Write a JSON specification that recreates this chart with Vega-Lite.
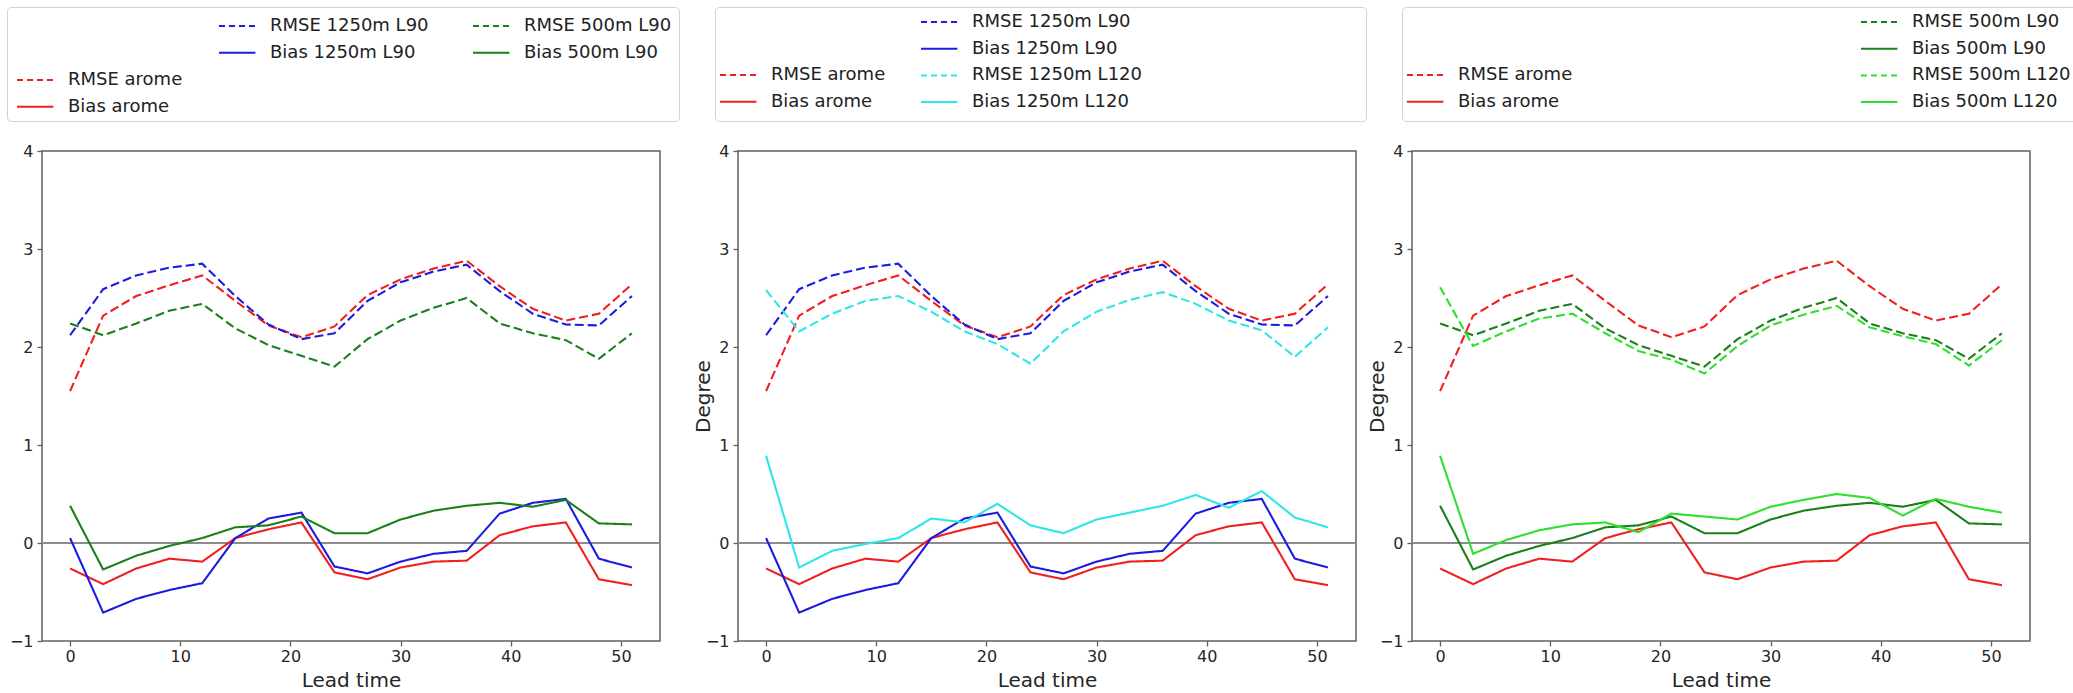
{
  "$schema": "https://vega.github.io/schema/vega-lite/v6.json",
  "background": "white",
  "padding": {"left": 6, "top": 6, "right": 0, "bottom": 0},
  "datasets": {
    "err": [
      {"lead":0,"series":"RMSE  arome","value":1.55},{"lead":3,"series":"RMSE  arome","value":2.32},{"lead":6,"series":"RMSE  arome","value":2.52},{"lead":9,"series":"RMSE  arome","value":2.63},{"lead":12,"series":"RMSE  arome","value":2.73},{"lead":15,"series":"RMSE  arome","value":2.47},{"lead":18,"series":"RMSE  arome","value":2.22},{"lead":21,"series":"RMSE  arome","value":2.10},{"lead":24,"series":"RMSE  arome","value":2.21},{"lead":27,"series":"RMSE  arome","value":2.53},{"lead":30,"series":"RMSE  arome","value":2.69},{"lead":33,"series":"RMSE  arome","value":2.80},{"lead":36,"series":"RMSE  arome","value":2.88},{"lead":39,"series":"RMSE  arome","value":2.62},{"lead":42,"series":"RMSE  arome","value":2.39},{"lead":45,"series":"RMSE  arome","value":2.27},{"lead":48,"series":"RMSE  arome","value":2.34},{"lead":51,"series":"RMSE  arome","value":2.64},
      {"lead":0,"series":"Bias  arome","value":-0.26},{"lead":3,"series":"Bias  arome","value":-0.42},{"lead":6,"series":"Bias  arome","value":-0.26},{"lead":9,"series":"Bias  arome","value":-0.16},{"lead":12,"series":"Bias  arome","value":-0.19},{"lead":15,"series":"Bias  arome","value":0.05},{"lead":18,"series":"Bias  arome","value":0.14},{"lead":21,"series":"Bias  arome","value":0.21},{"lead":24,"series":"Bias  arome","value":-0.30},{"lead":27,"series":"Bias  arome","value":-0.37},{"lead":30,"series":"Bias  arome","value":-0.25},{"lead":33,"series":"Bias  arome","value":-0.19},{"lead":36,"series":"Bias  arome","value":-0.18},{"lead":39,"series":"Bias  arome","value":0.08},{"lead":42,"series":"Bias  arome","value":0.17},{"lead":45,"series":"Bias  arome","value":0.21},{"lead":48,"series":"Bias  arome","value":-0.37},{"lead":51,"series":"Bias  arome","value":-0.43},
      {"lead":0,"series":"RMSE  1250m L90","value":2.12},{"lead":3,"series":"RMSE  1250m L90","value":2.59},{"lead":6,"series":"RMSE  1250m L90","value":2.73},{"lead":9,"series":"RMSE  1250m L90","value":2.81},{"lead":12,"series":"RMSE  1250m L90","value":2.85},{"lead":15,"series":"RMSE  1250m L90","value":2.52},{"lead":18,"series":"RMSE  1250m L90","value":2.23},{"lead":21,"series":"RMSE  1250m L90","value":2.08},{"lead":24,"series":"RMSE  1250m L90","value":2.14},{"lead":27,"series":"RMSE  1250m L90","value":2.47},{"lead":30,"series":"RMSE  1250m L90","value":2.66},{"lead":33,"series":"RMSE  1250m L90","value":2.77},{"lead":36,"series":"RMSE  1250m L90","value":2.84},{"lead":39,"series":"RMSE  1250m L90","value":2.57},{"lead":42,"series":"RMSE  1250m L90","value":2.34},{"lead":45,"series":"RMSE  1250m L90","value":2.23},{"lead":48,"series":"RMSE  1250m L90","value":2.22},{"lead":51,"series":"RMSE  1250m L90","value":2.52},
      {"lead":0,"series":"Bias  1250m L90","value":0.05},{"lead":3,"series":"Bias  1250m L90","value":-0.71},{"lead":6,"series":"Bias  1250m L90","value":-0.57},{"lead":9,"series":"Bias  1250m L90","value":-0.48},{"lead":12,"series":"Bias  1250m L90","value":-0.41},{"lead":15,"series":"Bias  1250m L90","value":0.05},{"lead":18,"series":"Bias  1250m L90","value":0.25},{"lead":21,"series":"Bias  1250m L90","value":0.31},{"lead":24,"series":"Bias  1250m L90","value":-0.24},{"lead":27,"series":"Bias  1250m L90","value":-0.31},{"lead":30,"series":"Bias  1250m L90","value":-0.19},{"lead":33,"series":"Bias  1250m L90","value":-0.11},{"lead":36,"series":"Bias  1250m L90","value":-0.08},{"lead":39,"series":"Bias  1250m L90","value":0.30},{"lead":42,"series":"Bias  1250m L90","value":0.41},{"lead":45,"series":"Bias  1250m L90","value":0.45},{"lead":48,"series":"Bias  1250m L90","value":-0.16},{"lead":51,"series":"Bias  1250m L90","value":-0.25},
      {"lead":0,"series":"RMSE  500m L90","value":2.24},{"lead":3,"series":"RMSE  500m L90","value":2.12},{"lead":6,"series":"RMSE  500m L90","value":2.24},{"lead":9,"series":"RMSE  500m L90","value":2.37},{"lead":12,"series":"RMSE  500m L90","value":2.44},{"lead":15,"series":"RMSE  500m L90","value":2.19},{"lead":18,"series":"RMSE  500m L90","value":2.02},{"lead":21,"series":"RMSE  500m L90","value":1.91},{"lead":24,"series":"RMSE  500m L90","value":1.80},{"lead":27,"series":"RMSE  500m L90","value":2.08},{"lead":30,"series":"RMSE  500m L90","value":2.27},{"lead":33,"series":"RMSE  500m L90","value":2.40},{"lead":36,"series":"RMSE  500m L90","value":2.50},{"lead":39,"series":"RMSE  500m L90","value":2.24},{"lead":42,"series":"RMSE  500m L90","value":2.14},{"lead":45,"series":"RMSE  500m L90","value":2.07},{"lead":48,"series":"RMSE  500m L90","value":1.88},{"lead":51,"series":"RMSE  500m L90","value":2.14},
      {"lead":0,"series":"Bias  500m L90","value":0.38},{"lead":3,"series":"Bias  500m L90","value":-0.27},{"lead":6,"series":"Bias  500m L90","value":-0.13},{"lead":9,"series":"Bias  500m L90","value":-0.03},{"lead":12,"series":"Bias  500m L90","value":0.05},{"lead":15,"series":"Bias  500m L90","value":0.16},{"lead":18,"series":"Bias  500m L90","value":0.18},{"lead":21,"series":"Bias  500m L90","value":0.27},{"lead":24,"series":"Bias  500m L90","value":0.10},{"lead":27,"series":"Bias  500m L90","value":0.10},{"lead":30,"series":"Bias  500m L90","value":0.24},{"lead":33,"series":"Bias  500m L90","value":0.33},{"lead":36,"series":"Bias  500m L90","value":0.38},{"lead":39,"series":"Bias  500m L90","value":0.41},{"lead":42,"series":"Bias  500m L90","value":0.37},{"lead":45,"series":"Bias  500m L90","value":0.44},{"lead":48,"series":"Bias  500m L90","value":0.20},{"lead":51,"series":"Bias  500m L90","value":0.19},
      {"lead":0,"series":"RMSE  1250m L120","value":2.58},{"lead":3,"series":"RMSE  1250m L120","value":2.16},{"lead":6,"series":"RMSE  1250m L120","value":2.34},{"lead":9,"series":"RMSE  1250m L120","value":2.47},{"lead":12,"series":"RMSE  1250m L120","value":2.52},{"lead":15,"series":"RMSE  1250m L120","value":2.36},{"lead":18,"series":"RMSE  1250m L120","value":2.16},{"lead":21,"series":"RMSE  1250m L120","value":2.03},{"lead":24,"series":"RMSE  1250m L120","value":1.83},{"lead":27,"series":"RMSE  1250m L120","value":2.16},{"lead":30,"series":"RMSE  1250m L120","value":2.36},{"lead":33,"series":"RMSE  1250m L120","value":2.48},{"lead":36,"series":"RMSE  1250m L120","value":2.56},{"lead":39,"series":"RMSE  1250m L120","value":2.44},{"lead":42,"series":"RMSE  1250m L120","value":2.27},{"lead":45,"series":"RMSE  1250m L120","value":2.17},{"lead":48,"series":"RMSE  1250m L120","value":1.90},{"lead":51,"series":"RMSE  1250m L120","value":2.20},
      {"lead":0,"series":"Bias  1250m L120","value":0.89},{"lead":3,"series":"Bias  1250m L120","value":-0.25},{"lead":6,"series":"Bias  1250m L120","value":-0.08},{"lead":9,"series":"Bias  1250m L120","value":-0.01},{"lead":12,"series":"Bias  1250m L120","value":0.05},{"lead":15,"series":"Bias  1250m L120","value":0.25},{"lead":18,"series":"Bias  1250m L120","value":0.21},{"lead":21,"series":"Bias  1250m L120","value":0.40},{"lead":24,"series":"Bias  1250m L120","value":0.18},{"lead":27,"series":"Bias  1250m L120","value":0.10},{"lead":30,"series":"Bias  1250m L120","value":0.24},{"lead":33,"series":"Bias  1250m L120","value":0.31},{"lead":36,"series":"Bias  1250m L120","value":0.38},{"lead":39,"series":"Bias  1250m L120","value":0.49},{"lead":42,"series":"Bias  1250m L120","value":0.36},{"lead":45,"series":"Bias  1250m L120","value":0.53},{"lead":48,"series":"Bias  1250m L120","value":0.26},{"lead":51,"series":"Bias  1250m L120","value":0.16},
      {"lead":0,"series":"RMSE  500m L120","value":2.61},{"lead":3,"series":"RMSE  500m L120","value":2.01},{"lead":6,"series":"RMSE  500m L120","value":2.16},{"lead":9,"series":"RMSE  500m L120","value":2.29},{"lead":12,"series":"RMSE  500m L120","value":2.34},{"lead":15,"series":"RMSE  500m L120","value":2.14},{"lead":18,"series":"RMSE  500m L120","value":1.96},{"lead":21,"series":"RMSE  500m L120","value":1.87},{"lead":24,"series":"RMSE  500m L120","value":1.73},{"lead":27,"series":"RMSE  500m L120","value":2.01},{"lead":30,"series":"RMSE  500m L120","value":2.22},{"lead":33,"series":"RMSE  500m L120","value":2.33},{"lead":36,"series":"RMSE  500m L120","value":2.42},{"lead":39,"series":"RMSE  500m L120","value":2.20},{"lead":42,"series":"RMSE  500m L120","value":2.11},{"lead":45,"series":"RMSE  500m L120","value":2.03},{"lead":48,"series":"RMSE  500m L120","value":1.81},{"lead":51,"series":"RMSE  500m L120","value":2.07},
      {"lead":0,"series":"Bias  500m L120","value":0.89},{"lead":3,"series":"Bias  500m L120","value":-0.11},{"lead":6,"series":"Bias  500m L120","value":0.03},{"lead":9,"series":"Bias  500m L120","value":0.13},{"lead":12,"series":"Bias  500m L120","value":0.19},{"lead":15,"series":"Bias  500m L120","value":0.21},{"lead":18,"series":"Bias  500m L120","value":0.11},{"lead":21,"series":"Bias  500m L120","value":0.30},{"lead":24,"series":"Bias  500m L120","value":0.27},{"lead":27,"series":"Bias  500m L120","value":0.24},{"lead":30,"series":"Bias  500m L120","value":0.37},{"lead":33,"series":"Bias  500m L120","value":0.44},{"lead":36,"series":"Bias  500m L120","value":0.50},{"lead":39,"series":"Bias  500m L120","value":0.46},{"lead":42,"series":"Bias  500m L120","value":0.28},{"lead":45,"series":"Bias  500m L120","value":0.45},{"lead":48,"series":"Bias  500m L120","value":0.37},{"lead":51,"series":"Bias  500m L120","value":0.31}
    ]
  },
  "concat": [
    {
      "hconcat": [
        {
          "width": 672, "height": 114,
          "view": {"stroke": "#d2d2d2", "strokeWidth": 1, "cornerRadius": 4},
          "data": {"values": []},
          "layer": [
            {"mark": "line", "encoding": {
              "x": {"field": "lead", "type": "quantitative", "axis": null, "scale": {"domain": [0, 51]}},
              "y": {"field": "value", "type": "quantitative", "axis": null, "scale": {"domain": [-1, 4]}},
              "color": {"field": "series", "type": "nominal", "scale": {"domain": ["RMSE  arome", "Bias  arome"], "range": ["#f0201e", "#f0201e"]}, "legend": {"title": null, "orient": "none", "legendX": 19.2, "legendY": 64, "symbolType": "M-2.6,0H2.6"}},
              "strokeDash": {"field": "series", "type": "nominal", "scale": {"domain": ["RMSE  arome", "Bias  arome"], "range": [[6, 4], [1, 0]]}, "legend": {"title": null, "orient": "none", "legendX": 19.2, "legendY": 64, "symbolType": "M-2.6,0H2.6"}}
            }},
            {"mark": "line", "encoding": {
              "x": {"field": "lead", "type": "quantitative", "axis": null, "scale": {"domain": [0, 51]}},
              "y": {"field": "value", "type": "quantitative", "axis": null, "scale": {"domain": [-1, 4]}},
              "color": {"field": "series", "type": "nominal", "scale": {"domain": ["RMSE  1250m L90", "Bias  1250m L90"], "range": ["#1c1ce0", "#1c1ce0"]}, "legend": {"title": null, "orient": "none", "legendX": 221.2, "legendY": 10, "symbolType": "M-2.6,0H2.6"}},
              "strokeDash": {"field": "series", "type": "nominal", "scale": {"domain": ["RMSE  1250m L90", "Bias  1250m L90"], "range": [[6, 4], [1, 0]]}, "legend": {"title": null, "orient": "none", "legendX": 221.2, "legendY": 10, "symbolType": "M-2.6,0H2.6"}}
            }},
            {"mark": "line", "encoding": {
              "x": {"field": "lead", "type": "quantitative", "axis": null, "scale": {"domain": [0, 51]}},
              "y": {"field": "value", "type": "quantitative", "axis": null, "scale": {"domain": [-1, 4]}},
              "color": {"field": "series", "type": "nominal", "scale": {"domain": ["RMSE  500m L90", "Bias  500m L90"], "range": ["#1a801a", "#1a801a"]}, "legend": {"title": null, "orient": "none", "legendX": 475.2, "legendY": 10, "symbolType": "M-2.6,0H2.6"}},
              "strokeDash": {"field": "series", "type": "nominal", "scale": {"domain": ["RMSE  500m L90", "Bias  500m L90"], "range": [[6, 4], [1, 0]]}, "legend": {"title": null, "orient": "none", "legendX": 475.2, "legendY": 10, "symbolType": "M-2.6,0H2.6"}}
            }}
          ],
          "resolve": {"scale": {"color": "independent", "strokeDash": "independent"}, "legend": {"color": "independent", "strokeDash": "independent"}}
        },
        {
          "width": 651, "height": 114,
          "view": {"stroke": "#d2d2d2", "strokeWidth": 1, "cornerRadius": 4},
          "data": {"values": []},
          "layer": [
            {"mark": "line", "encoding": {
              "x": {"field": "lead", "type": "quantitative", "axis": null, "scale": {"domain": [0, 51]}},
              "y": {"field": "value", "type": "quantitative", "axis": null, "scale": {"domain": [-1, 4]}},
              "color": {"field": "series", "type": "nominal", "scale": {"domain": ["RMSE  arome", "Bias  arome"], "range": ["#f0201e", "#f0201e"]}, "legend": {"title": null, "orient": "none", "legendX": 14.2, "legendY": 59, "symbolType": "M-2.6,0H2.6"}},
              "strokeDash": {"field": "series", "type": "nominal", "scale": {"domain": ["RMSE  arome", "Bias  arome"], "range": [[6, 4], [1, 0]]}, "legend": {"title": null, "orient": "none", "legendX": 14.2, "legendY": 59, "symbolType": "M-2.6,0H2.6"}}
            }},
            {"mark": "line", "encoding": {
              "x": {"field": "lead", "type": "quantitative", "axis": null, "scale": {"domain": [0, 51]}},
              "y": {"field": "value", "type": "quantitative", "axis": null, "scale": {"domain": [-1, 4]}},
              "color": {"field": "series", "type": "nominal", "scale": {"domain": ["RMSE  1250m L90", "Bias  1250m L90", "RMSE  1250m L120", "Bias  1250m L120"], "range": ["#1c1ce0", "#1c1ce0", "#2ee6e6", "#2ee6e6"]}, "legend": {"title": null, "orient": "none", "legendX": 215.2, "legendY": 6, "symbolType": "M-2.6,0H2.6"}},
              "strokeDash": {"field": "series", "type": "nominal", "scale": {"domain": ["RMSE  1250m L90", "Bias  1250m L90", "RMSE  1250m L120", "Bias  1250m L120"], "range": [[6, 4], [1, 0], [6, 4], [1, 0]]}, "legend": {"title": null, "orient": "none", "legendX": 215.2, "legendY": 6, "symbolType": "M-2.6,0H2.6"}}
            }}
          ],
          "resolve": {"scale": {"color": "independent", "strokeDash": "independent"}, "legend": {"color": "independent", "strokeDash": "independent"}}
        },
        {
          "width": 675, "height": 114,
          "view": {"stroke": "#d2d2d2", "strokeWidth": 1, "cornerRadius": 4},
          "data": {"values": []},
          "layer": [
            {"mark": "line", "encoding": {
              "x": {"field": "lead", "type": "quantitative", "axis": null, "scale": {"domain": [0, 51]}},
              "y": {"field": "value", "type": "quantitative", "axis": null, "scale": {"domain": [-1, 4]}},
              "color": {"field": "series", "type": "nominal", "scale": {"domain": ["RMSE  arome", "Bias  arome"], "range": ["#f0201e", "#f0201e"]}, "legend": {"title": null, "orient": "none", "legendX": 14.2, "legendY": 59, "symbolType": "M-2.6,0H2.6"}},
              "strokeDash": {"field": "series", "type": "nominal", "scale": {"domain": ["RMSE  arome", "Bias  arome"], "range": [[6, 4], [1, 0]]}, "legend": {"title": null, "orient": "none", "legendX": 14.2, "legendY": 59, "symbolType": "M-2.6,0H2.6"}}
            }},
            {"mark": "line", "encoding": {
              "x": {"field": "lead", "type": "quantitative", "axis": null, "scale": {"domain": [0, 51]}},
              "y": {"field": "value", "type": "quantitative", "axis": null, "scale": {"domain": [-1, 4]}},
              "color": {"field": "series", "type": "nominal", "scale": {"domain": ["RMSE  500m L90", "Bias  500m L90", "RMSE  500m L120", "Bias  500m L120"], "range": ["#1a801a", "#1a801a", "#2ee02e", "#2ee02e"]}, "legend": {"title": null, "orient": "none", "legendX": 468.2, "legendY": 6, "symbolType": "M-2.6,0H2.6"}},
              "strokeDash": {"field": "series", "type": "nominal", "scale": {"domain": ["RMSE  500m L90", "Bias  500m L90", "RMSE  500m L120", "Bias  500m L120"], "range": [[6, 4], [1, 0], [6, 4], [1, 0]]}, "legend": {"title": null, "orient": "none", "legendX": 468.2, "legendY": 6, "symbolType": "M-2.6,0H2.6"}}
            }}
          ],
          "resolve": {"scale": {"color": "independent", "strokeDash": "independent"}, "legend": {"color": "independent", "strokeDash": "independent"}}
        }
      ],
      "spacing": 34,
      "resolve": {"scale": {"color": "independent", "strokeDash": "independent"}, "legend": {"color": "independent", "strokeDash": "independent"}}
    },
    {
      "hconcat": [
        {
          "width": 1, "height": 490,
          "view": {"stroke": null, "fill": null},
          "data": {"values": []},
          "mark": "point",
          "encoding": {
            "x": {"field": "lead", "type": "quantitative", "axis": null},
            "y": {"field": "value", "type": "quantitative", "axis": null}
          }
        },
        {
          "hconcat": [
            {
              "width": 618, "height": 490,
              "layer": [
                {"data": {"values": [{}]}, "mark": {"type": "rule", "color": "#8c8c8c", "strokeWidth": 2}, "encoding": {"y": {"datum": 0}}},
                {"data": {"name": "err"},
                 "transform": [{"filter": {"field": "series", "oneOf": ["RMSE  arome", "Bias  arome", "RMSE  1250m L90", "Bias  1250m L90", "RMSE  500m L90", "Bias  500m L90"]}}],
                 "mark": {"type": "line", "strokeWidth": 2.1, "clip": true},
                 "encoding": {
                   "x": {"field": "lead", "type": "quantitative", "scale": {"domain": [-2.55, 53.55], "nice": false, "zero": false}, "axis": {"values": [0, 10, 20, 30, 40, 50], "format": "d", "title": "Lead time"}},
                   "y": {"field": "value", "type": "quantitative", "scale": {"domain": [-1, 4], "nice": false, "zero": false}, "axis": {"values": [-1, 0, 1, 2, 3, 4], "format": "d", "title": null}},
                   "color": {"field": "series", "type": "nominal", "scale": {"domain": ["RMSE  arome", "Bias  arome", "RMSE  1250m L90", "Bias  1250m L90", "RMSE  500m L90", "Bias  500m L90"], "range": ["#f0201e", "#f0201e", "#1c1ce0", "#1c1ce0", "#1a801a", "#1a801a"]}, "legend": null},
                   "strokeDash": {"field": "series", "type": "nominal", "scale": {"domain": ["RMSE  arome", "Bias  arome", "RMSE  1250m L90", "Bias  1250m L90", "RMSE  500m L90", "Bias  500m L90"], "range": [[9, 4], [1, 0], [9, 4], [1, 0], [9, 4], [1, 0]]}, "legend": null}
                 }}
              ]
            },
            {
              "hconcat": [
                {
                  "width": 618, "height": 490,
                  "layer": [
                    {"data": {"values": [{}]}, "mark": {"type": "rule", "color": "#8c8c8c", "strokeWidth": 2}, "encoding": {"y": {"datum": 0}}},
                    {"data": {"name": "err"},
                     "transform": [{"filter": {"field": "series", "oneOf": ["RMSE  arome", "Bias  arome", "RMSE  1250m L90", "Bias  1250m L90", "RMSE  1250m L120", "Bias  1250m L120"]}}],
                     "mark": {"type": "line", "strokeWidth": 2.1, "clip": true},
                     "encoding": {
                       "x": {"field": "lead", "type": "quantitative", "scale": {"domain": [-2.55, 53.55], "nice": false, "zero": false}, "axis": {"values": [0, 10, 20, 30, 40, 50], "format": "d", "title": "Lead time"}},
                       "y": {"field": "value", "type": "quantitative", "scale": {"domain": [-1, 4], "nice": false, "zero": false}, "axis": {"values": [-1, 0, 1, 2, 3, 4], "format": "d", "title": "Degree"}},
                       "color": {"field": "series", "type": "nominal", "scale": {"domain": ["RMSE  arome", "Bias  arome", "RMSE  1250m L90", "Bias  1250m L90", "RMSE  1250m L120", "Bias  1250m L120"], "range": ["#f0201e", "#f0201e", "#1c1ce0", "#1c1ce0", "#2ee6e6", "#2ee6e6"]}, "legend": null},
                       "strokeDash": {"field": "series", "type": "nominal", "scale": {"domain": ["RMSE  arome", "Bias  arome", "RMSE  1250m L90", "Bias  1250m L90", "RMSE  1250m L120", "Bias  1250m L120"], "range": [[9, 4], [1, 0], [9, 4], [1, 0], [9, 4], [1, 0]]}, "legend": null}
                     }}
                  ]
                },
                {
                  "width": 618, "height": 490,
                  "layer": [
                    {"data": {"values": [{}]}, "mark": {"type": "rule", "color": "#8c8c8c", "strokeWidth": 2}, "encoding": {"y": {"datum": 0}}},
                    {"data": {"name": "err"},
                     "transform": [{"filter": {"field": "series", "oneOf": ["RMSE  arome", "Bias  arome", "RMSE  500m L90", "Bias  500m L90", "RMSE  500m L120", "Bias  500m L120"]}}],
                     "mark": {"type": "line", "strokeWidth": 2.1, "clip": true},
                     "encoding": {
                       "x": {"field": "lead", "type": "quantitative", "scale": {"domain": [-2.55, 53.55], "nice": false, "zero": false}, "axis": {"values": [0, 10, 20, 30, 40, 50], "format": "d", "title": "Lead time"}},
                       "y": {"field": "value", "type": "quantitative", "scale": {"domain": [-1, 4], "nice": false, "zero": false}, "axis": {"values": [-1, 0, 1, 2, 3, 4], "format": "d", "title": "Degree"}},
                       "color": {"field": "series", "type": "nominal", "scale": {"domain": ["RMSE  arome", "Bias  arome", "RMSE  500m L90", "Bias  500m L90", "RMSE  500m L120", "Bias  500m L120"], "range": ["#f0201e", "#f0201e", "#1a801a", "#1a801a", "#2ee02e", "#2ee02e"]}, "legend": null},
                       "strokeDash": {"field": "series", "type": "nominal", "scale": {"domain": ["RMSE  arome", "Bias  arome", "RMSE  500m L90", "Bias  500m L90", "RMSE  500m L120", "Bias  500m L120"], "range": [[9, 4], [1, 0], [9, 4], [1, 0], [9, 4], [1, 0]]}, "legend": null}
                     }}
                  ]
                }
              ],
              "spacing": 8,
              "resolve": {"scale": {"color": "independent", "strokeDash": "independent"}}
            }
          ],
          "spacing": 30,
          "resolve": {"scale": {"color": "independent", "strokeDash": "independent"}}
        }
      ],
      "spacing": 0,
      "resolve": {"scale": {"color": "independent", "strokeDash": "independent"}}
    }
  ],
  "columns": 1,
  "spacing": 20,
  "resolve": {"scale": {"color": "independent", "strokeDash": "independent"}, "legend": {"color": "independent", "strokeDash": "independent"}},
  "config": {
    "view": {"stroke": "#606060", "strokeWidth": 1.5},
    "axis": {"domain": false, "grid": false, "ticks": true, "tickColor": "#606060", "tickWidth": 1.3, "tickSize": 5, "labelFont": "DejaVu Sans", "labelFontSize": 16, "labelColor": "#262626", "labelPadding": 3, "labelFlush": false, "labelOverlap": false, "titleFont": "DejaVu Sans", "titleFontSize": 20, "titleFontWeight": "normal", "titleColor": "#262626"},
    "axisX": {"titlePadding": 6, "labelPadding": 2},
    "axisY": {"titlePadding": -8, "labelPadding": 4},
    "legend": {"labelFont": "DejaVu Sans", "labelFontSize": 18, "labelColor": "#222222", "labelLimit": 400, "labelOffset": 23.8, "rowPadding": 8.7, "symbolSize": 196, "symbolStrokeWidth": 2, "padding": 0, "direction": "vertical", "labelExpr": "replace(datum.label, '  ', '\u00a0\u00a0')"}
  }
}
